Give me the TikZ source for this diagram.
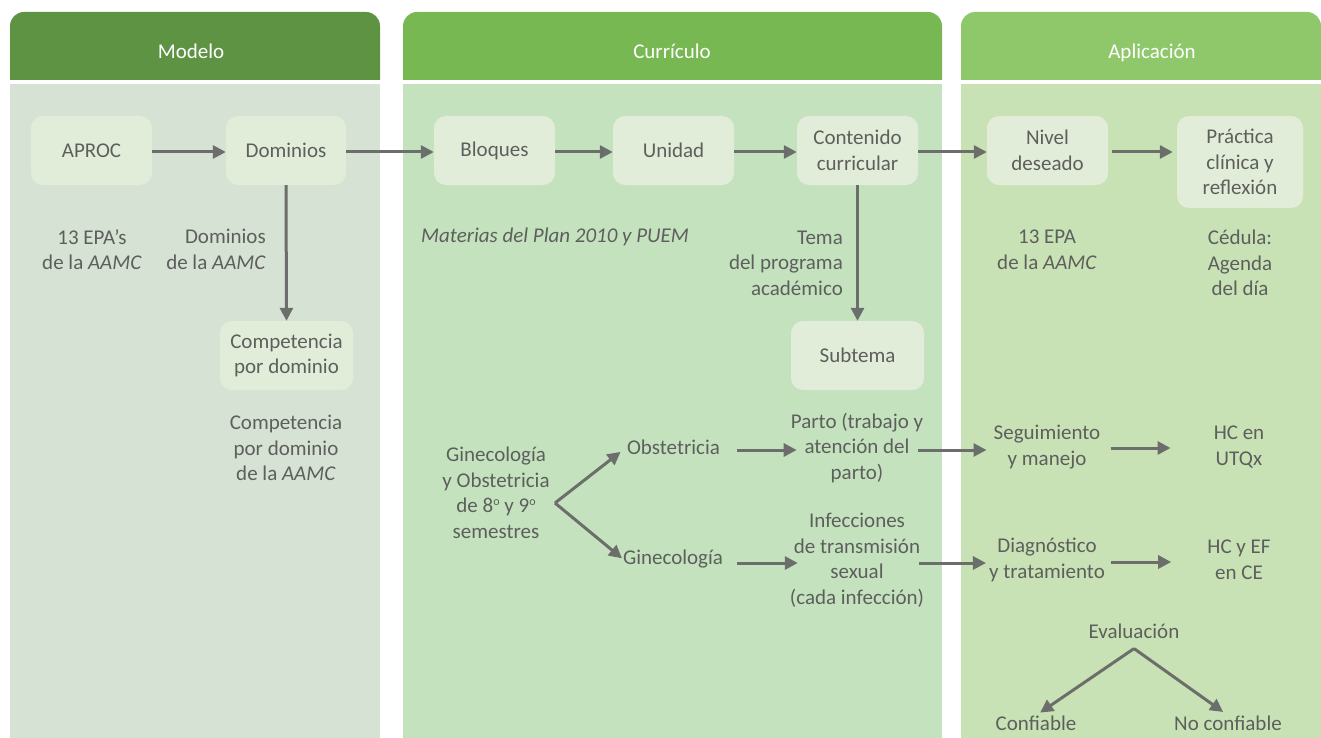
\documentclass[tikz,border=0pt]{standalone}
\usepackage{fontspec}
\setmainfont{Carlito}
\usetikzlibrary{arrows.meta}
\definecolor{hA}{HTML}{5E9344}
\definecolor{hB}{HTML}{77B853}
\definecolor{hC}{HTML}{8FC86A}
\definecolor{bA}{HTML}{D6E2D4}
\definecolor{bB}{HTML}{C5E2BF}
\definecolor{bC}{HTML}{C9E2B5}
\definecolor{boxc}{HTML}{E2EDD9}
\definecolor{tgray}{HTML}{5D5F5C}
\definecolor{agray}{HTML}{6B6E6A}
\newcommand{\ordo}{\raisebox{0.75ex}{\fontsize{12}{12}\selectfont o}}
\begin{document}
\begin{tikzpicture}[x=1pt,y=-1pt,
  txt/.style={inner sep=0pt, text=tgray, font=\fontsize{21}{25.5}\selectfont, align=center},
  box/.style={txt, fill=boxc, rounded corners=12pt, minimum height=69pt},
  arr/.style={draw=agray, line width=3pt, -{Triangle[length=13pt,width=13pt]}},
  hdr/.style={inner sep=0pt, text=white, anchor=base, font=\fontsize{21}{25.5}\selectfont}]
\useasboundingbox (0,0) rectangle (1321,738);
% column backgrounds
\fill[bA] (10,84) rectangle (380,738);
\fill[bB] (403,84) rectangle (942,738);
\fill[bC] (961,84) rectangle (1321,738);
\fill[hA] (10,80) [rounded corners=14pt] -- (10,12) -- (380,12) [sharp corners] -- (380,80) -- cycle;
\fill[hB] (403,80) [rounded corners=14pt] -- (403,12) -- (942,12) [sharp corners] -- (942,80) -- cycle;
\fill[hC] (961,80) [rounded corners=14pt] -- (961,12) -- (1321,12) [sharp corners] -- (1321,80) -- cycle;
\node[hdr] (tA) at (191,59) {Modelo};
\node[hdr] (tB) at (672,59) {Currículo};
\node[hdr] (tC) at (1152,59) {Aplicación};
% boxes
\node[box, minimum width=121pt] (aproc) at (91.5,150.5) {APROC};
\node[box, minimum width=120pt] (dom) at (286,150.5) {Dominios};
\node[box, minimum width=133pt] (comp) at (286.5,355.5) {Competencia\\por dominio};
\node[box, minimum width=121pt] (bloq) at (494.5,150.5) {Bloques};
\node[box, minimum width=121pt] (unid) at (673.5,150.5) {Unidad};
\node[box, minimum width=121pt] (cont) at (857.5,150.5) {Contenido\\curricular};
\node[box, minimum width=133pt] (subt) at (857.5,355.5) {Subtema};
\node[box, minimum width=121pt] (nivel) at (1047.5,150.5) {Nivel\\deseado};
\node[box, minimum width=126pt, minimum height=92pt] (prac) at (1240,162) {Práctica\\clínica y\\reflexión};
% plain texts
\node[txt] (epaA) at (92,249.5) {13 EPA’s\\de la \textit{AAMC}};
\node[txt, align=right, anchor=east] (domA) at (266,249.5) {Dominios\\de la \textit{AAMC}};
\node[txt] (compA) at (286,448) {Competencia\\por dominio\\de la \textit{AAMC}};
\node[txt, anchor=west] (mat) at (421,237) {\textit{Materias del Plan 2010 y PUEM}};
\node[txt, align=right, anchor=east] (tema) at (843,263) {Tema\\del programa\\académico};
\node[txt] (epaC) at (1047,250) {13 EPA\\de la \textit{AAMC}};
\node[txt] (ced) at (1240,263) {Cédula:\\Agenda\\del día};
\node[txt] (gyo) at (496,493) {Ginecología\\y Obstetricia\\de 8\ordo{} y 9\ordo\\semestres};
\node[txt] (obst) at (673.5,447) {Obstetricia};
\node[txt] (gine) at (673,559) {Ginecología};
\node[txt] (parto) at (857,448) {Parto (trabajo y\\atención del\\parto)};
\node[txt] (inf) at (857,560) {Infecciones\\de transmisión\\sexual\\(cada infección)};
\node[txt] (seg) at (1047,447) {Seguimiento\\y manejo};
\node[txt] (diag) at (1047,560) {Diagnóstico\\y tratamiento};
\node[txt] (hcen) at (1239,447) {HC en\\UTQx};
\node[txt] (hcy) at (1239,560) {HC y EF\\en CE};
\node[txt] (eval) at (1134,631) {Evaluación};
\node[txt] (conf) at (1036,723) {Confiable};
\node[txt] (noconf) at (1228,723) {No confiable};
\coordinate (gapex) at (555,503);
% connectors
\draw[arr] (aproc.east |- 0,152) -- (dom.west |- 0,152);
\draw[arr] (dom.east |- 0,152) -- (bloq.west |- 0,152);
\draw[arr] (bloq.east |- 0,152) -- (unid.west |- 0,152);
\draw[arr] (unid.east |- 0,152) -- (cont.west |- 0,152);
\draw[arr] (cont.east |- 0,152) -- (nivel.west |- 0,152);
\draw[arr, shorten >=4pt, shorten <=4pt] (nivel.east |- 0,152) -- (prac.west |- 0,152);
\draw[arr] (dom.south) -- (comp.north);
\draw[arr] (cont.south) -- (subt.north);
\draw[arr, shorten >=8pt] (gapex) -- (obst.west);
\draw[arr, shorten >=1pt] (gapex) -- (gine.west);
\draw[arr, shorten <=17pt, shorten >=-6pt] (obst.east |- 0,450) -- (parto.west |- 0,450);
\draw[arr, shorten <=14pt, shorten >=-8pt] (gine.east |- 0,563) -- (inf.west |- 0,563);
\draw[arr, shorten <=-5pt, shorten >=7pt] (parto.east |- 0,450) -- (seg.west |- 0,450);
\draw[arr, shorten <=-5pt, shorten >=3pt] (inf.east |- 0,563) -- (diag.west |- 0,563);
\draw[arr, shorten <=10pt, shorten >=43pt] (seg.east |- 0,448) -- (hcen.west |- 0,448);
\draw[arr, shorten <=6pt, shorten >=36pt] (diag.east |- 0,562) -- (hcy.west |- 0,562);
\draw[arr, shorten >=5pt] ([yshift=-10pt]eval.south) -- (conf.north);
\draw[arr, shorten >=6pt] ([yshift=-10pt]eval.south) -- (noconf.north);
\end{tikzpicture}
\end{document}
